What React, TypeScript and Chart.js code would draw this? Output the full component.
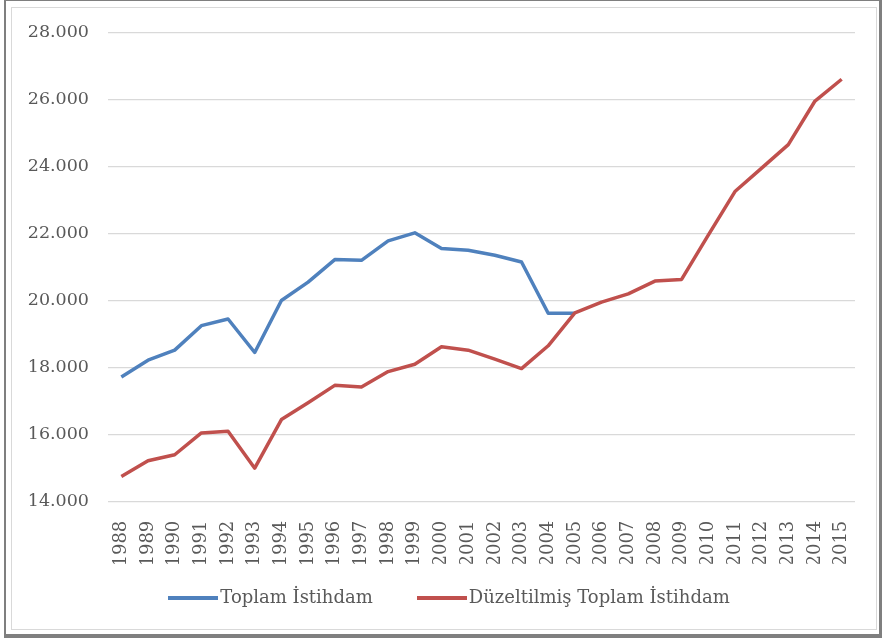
import { useEffect, useRef } from 'react';
import { Chart, registerables } from 'chart.js';

Chart.register(...registerables);

const years = [
  '1988', '1989', '1990', '1991', '1992', '1993', '1994', '1995', '1996', '1997',
  '1998', '1999', '2000', '2001', '2002', '2003', '2004', '2005', '2006', '2007',
  '2008', '2009', '2010', '2011', '2012', '2013', '2014', '2015',
];

const toplamIstihdam = [
  17720, 18220, 18520, 19250, 19450, 18450, 20000, 20550, 21220, 21200,
  21780, 22020, 21550, 21500, 21350, 21150, 19620, 19620, null, null,
  null, null, null, null, null, null, null, null,
];

const duzeltilmisToplamIstihdam = [
  14750, 15220, 15400, 16050, 16100, 15000, 16450, 16950, 17470, 17420,
  17880, 18100, 18620, 18520, 18250, 17970, 18650, 19630, 19950, 20200,
  20580, 20630, 21950, 23250, 23950, 24650, 25950, 26600,
];

const seriesNames = ['Toplam İstihdam', 'Düzeltilmiş Toplam İstihdam'];
const seriesColors = ['#4F81BD', '#C0504D'];

const yMin = 14000;
const yMax = 28000;
const yStep = 2000;

const FONT = "'DejaVu Serif', serif";
const TEXT = '#595959';
const LEGEND_FONT = 18;
const LEGEND_PAD = 51;

function fmt(v: number | string) {
  return String(Math.round(Number(v))).replace(/\B(?=(\d{3})+(?!\d))/g, '.');
}

// legend sample: a short thick line
function legendLine(color: string) {
  const c = document.createElement('canvas');
  c.width = 50;
  c.height = 4;
  const g = c.getContext('2d')!;
  g.fillStyle = color;
  g.fillRect(0, 0, 50, 4);
  return c;
}

// places the legend box where the reference puts it
const legendShift = {
  id: 'legendShift',
  afterLayout(chart: any) {
    const lg = chart.legend;
    if (!lg) return;
    const wantCenterX = 452.5;
    const wantTextY = 598;
    const dx = wantCenterX - (lg.left + lg.right) / 2;
    const dy = wantTextY - (lg.top + LEGEND_PAD + LEGEND_FONT / 2);
    lg.left += dx;
    lg.right += dx;
    lg.top += dy;
    lg.bottom += dy;
  },
};

export default function App() {
  const ref = useRef<HTMLCanvasElement>(null);

  useEffect(() => {
    document.body.style.margin = '0';
    const chart = new Chart(ref.current!, {
      type: 'line',
      data: {
        labels: years,
        datasets: [
          {
            label: seriesNames[0],
            data: toplamIstihdam,
            borderColor: seriesColors[0],
            backgroundColor: seriesColors[0],
            borderWidth: 3.5,
            pointRadius: 0,
            pointStyle: legendLine(seriesColors[0]),
            tension: 0,
            borderJoinStyle: 'round',
            order: 1,
          },
          {
            label: seriesNames[1],
            data: duzeltilmisToplamIstihdam,
            borderColor: seriesColors[1],
            backgroundColor: seriesColors[1],
            borderWidth: 3.5,
            pointRadius: 0,
            pointStyle: legendLine(seriesColors[1]),
            tension: 0,
            borderJoinStyle: 'round',
            order: 0,
          },
        ],
      },
      options: {
        animation: false,
        responsive: false,
        layout: { padding: { left: 25, right: 27, top: 32.3, bottom: -4.7 } },
        plugins: {
          tooltip: { enabled: false },
          legend: {
            position: 'bottom',
            labels: {
              usePointStyle: true,
              pointStyleWidth: 36,
              padding: LEGEND_PAD,
              color: TEXT,
              font: { family: FONT, size: LEGEND_FONT },
              sort: (a: any, b: any) => a.datasetIndex - b.datasetIndex,
            },
          },
        },
        scales: {
          x: {
            offset: true,
            grid: { display: false },
            border: { display: false },
            ticks: {
              autoSkip: false,
              minRotation: 90,
              maxRotation: 90,
              padding: 11,
              color: TEXT,
              font: { family: FONT, size: 18 },
            },
            afterFit: (s: any) => {
              s.height = 62;
            },
          },
          y: {
            min: yMin,
            max: yMax,
            ticks: {
              stepSize: yStep,
              padding: 19,
              color: TEXT,
              font: { family: FONT, size: 17.5 },
              callback: (v: any) => fmt(v),
            },
            grid: { color: '#d9d9d9', drawTicks: false, lineWidth: 1.2 },
            border: { display: false },
            afterFit: (s: any) => {
              s.width = 83;
            },
          },
        },
      },
      plugins: [legendShift],
    } as any);
    return () => chart.destroy();
  }, []);

  return (
    <div style={{ position: 'relative', width: 882, height: 638, background: '#fff', overflow: 'hidden' }}>
      <div
        style={{
          position: 'absolute', left: 4, top: 0, width: 878, height: 638, boxSizing: 'border-box',
          borderStyle: 'solid', borderColor: '#7f7f7f', borderWidth: '1px 3px 4px 2px',
        }}
      />
      <div
        style={{
          position: 'absolute', left: 11, top: 7, width: 866, height: 623, boxSizing: 'border-box',
          border: '1px solid #d9d9d9',
        }}
      />
      <canvas ref={ref} width={882} height={638} style={{ position: 'absolute', left: 0, top: 0 }} />
    </div>
  );
}
